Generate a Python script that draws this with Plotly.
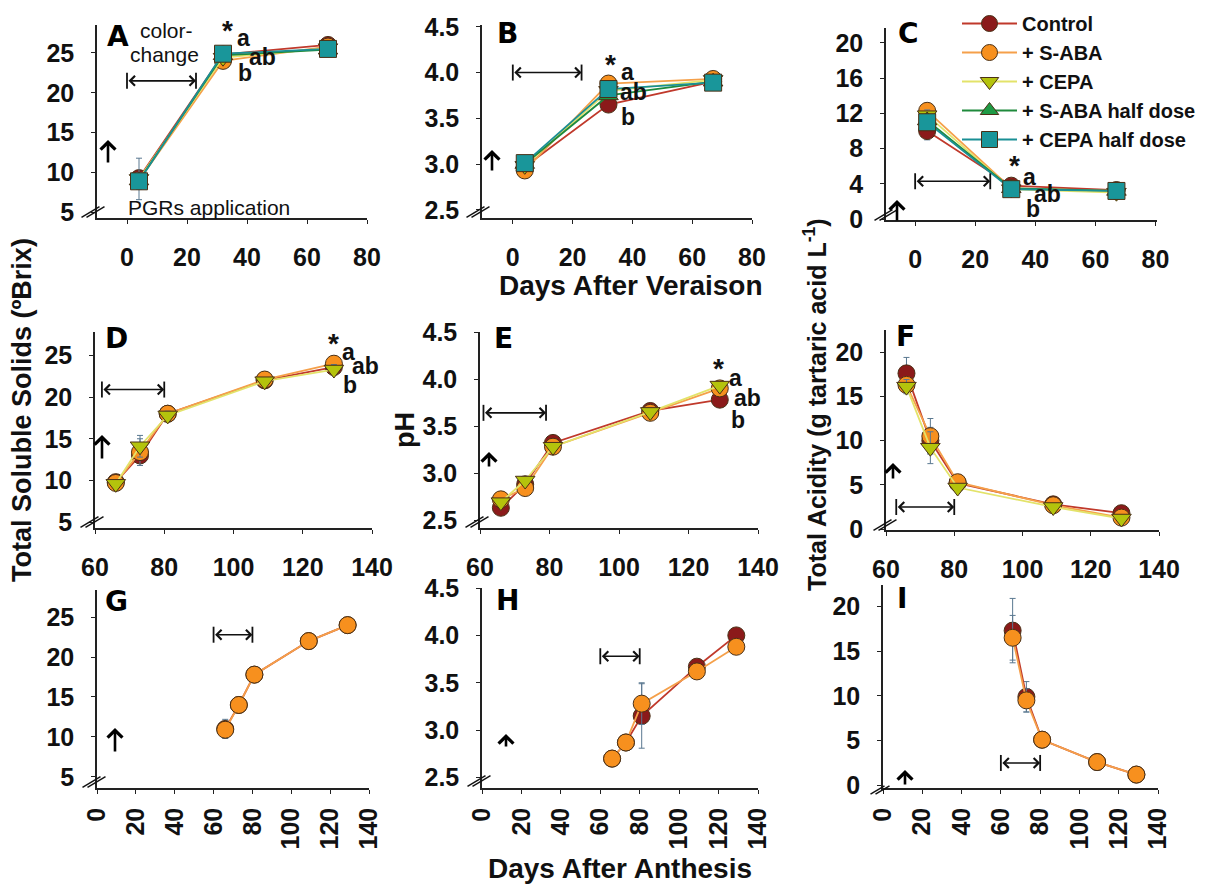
import plotly.graph_objects as go

W, H = 1226, 894
OFF = 8  # page body margin of the html page

# ---------------- data ----------------
days_veraison = [4, 32, 67]
days_anthesis = [66, 73, 81, 109, 129]

series_names = ["Control", "+ S-ABA", "+ CEPA", "+ S-ABA half dose", "+ CEPA half dose"]

# Panel A: total soluble solids (ºBrix) vs days after veraison
A_control = [9.3, 24.8, 26.0]
A_saba = [9.0, 24.0, 25.8]
A_cepa = [9.2, 24.4, 25.6]
A_saba_half = [9.0, 24.7, 25.4]
A_cepa_half = [8.9, 24.9, 25.5]
A_err = [[0.8, 0.5, 0.5], [1.0, 0.5, 0.5], [2.6, 0.5, 0.5], [1.0, 0.4, 0.4], [1.0, 0.4, 0.4]]

# Panel B: pH vs days after veraison
B_control = [2.97, 3.65, 3.90]
B_saba = [2.93, 3.88, 3.93]
B_cepa = [2.98, 3.80, 3.92]
B_saba_half = [3.00, 3.75, 3.90]
B_cepa_half = [3.01, 3.82, 3.89]
B_err = [[0.03, 0.04, 0.04]] * 5

# Panel C: total acidity vs days after veraison
C_control = [10.0, 3.8, 3.3]
C_saba = [12.3, 3.5, 3.2]
C_cepa = [11.8, 3.4, 3.0]
C_saba_half = [11.2, 3.5, 3.2]
C_cepa_half = [11.0, 3.4, 3.2]
C_err = [[1.0, 0.3, 0.4], [0.6, 0.3, 0.3], [0.6, 0.3, 0.6], [0.5, 0.3, 0.3], [0.5, 0.3, 0.3]]

# Panel D-F: days after anthesis (Control, S-ABA, CEPA)
D_control = [9.8, 13.0, 18.0, 22.0, 23.6]
D_saba = [9.7, 13.4, 18.0, 22.1, 24.0]
D_cepa = [9.6, 14.1, 17.8, 21.9, 23.3]
D_err = [[0.4, 1.2, 0.5, 0.4, 0.4], [0.4, 1.6, 0.5, 0.4, 0.4], [0.4, 1.3, 0.5, 0.4, 0.6]]

E_control = [2.63, 2.88, 3.32, 3.66, 3.78]
E_saba = [2.72, 2.84, 3.28, 3.64, 3.90]
E_cepa = [2.69, 2.92, 3.28, 3.65, 3.93]
E_err = [[0.03, 0.04, 0.04, 0.03, 0.03]] * 3

F_control = [17.6, 10.0, 5.2, 2.8, 1.8]
F_saba = [16.3, 10.5, 5.3, 2.7, 1.3]
F_cepa = [16.1, 9.2, 4.7, 2.5, 1.2]
F_err = [[1.8, 1.5, 0.4, 0.3, 0.3], [0.8, 2.0, 0.4, 0.3, 0.3], [0.8, 1.8, 0.4, 0.3, 0.3]]

# Panel G-I: days after anthesis (Control, S-ABA)
G_control = [11.0, 14.0, 17.8, 22.0, 24.0]
G_saba = [10.9, 14.0, 17.8, 22.0, 24.0]
G_err = [[1.2, 0.5, 0.4, 0.4, 0.4], [0.8, 0.5, 0.4, 0.4, 0.4]]

H_control = [2.70, 2.87, 3.15, 3.67, 4.00]
H_saba = [2.70, 2.87, 3.28, 3.62, 3.88]
H_err = [[0.03, 0.04, 0.34, 0.04, 0.04], [0.03, 0.04, 0.22, 0.04, 0.04]]

I_control = [17.3, 9.9, 5.1, 2.6, 1.2]
I_saba = [16.5, 9.5, 5.1, 2.6, 1.2]
I_err = [[3.6, 1.7, 0.4, 0.3, 0.2], [2.5, 1.3, 0.4, 0.3, 0.2]]

tick_tss = [5, 10, 15, 20, 25]
tick_ph = [2.5, 3.0, 3.5, 4.0, 4.5]
tick_ta_c = [0, 4, 8, 12, 16, 20]
tick_ta = [0, 5, 10, 15, 20]
tick_dav = [0, 20, 40, 60, 80]
tick_daa_mid = [60, 80, 100, 120, 140]
tick_daa_full = [0, 20, 40, 60, 80, 100, 120, 140]

# ---------------- styles ----------------
styles = [
    dict(line="#c0392b", fill="#8b1a1a", symbol="circle"),
    dict(line="#f5a04a", fill="#f7901e", symbol="circle"),
    dict(line="#e3e36a", fill="#b4c30c", symbol="triangle-down"),
    dict(line="#1f8a3c", fill="#1e9a45", symbol="triangle-up"),
    dict(line="#1a8f95", fill="#19969a", symbol="square"),
]
FONT = "Liberation Sans, Arial, sans-serif"
AXCOL = "#222"
TICKSIZE = 25


def X(px):
    return (px - OFF) / W


def Y(py):
    return 1 - (py - OFF) / H


panels = [
    ("A", (97, 367), (25, 218), [-10, 80], [4.3, 28.5], tick_dav, tick_tss, days_veraison,
     [A_control, A_saba, A_cepa, A_saba_half, A_cepa_half], A_err, False),
    ("B", (482, 752), (25, 218), [-10.3, 80], [2.41, 4.52], tick_dav, tick_ph, days_veraison,
     [B_control, B_saba, B_cepa, B_saba_half, B_cepa_half], B_err, False),
    ("C", (886, 1157), (28, 220), [-9.7, 80.5], [-0.1, 21.7], tick_dav, tick_ta_c, days_veraison,
     [C_control, C_saba, C_cepa, C_saba_half, C_cepa_half], C_err, False),
    ("D", (95, 372), (332, 528), [60, 140], [4.3, 27.8], tick_daa_mid, tick_tss, days_anthesis,
     [D_control, D_saba, D_cepa], D_err, False),
    ("E", (480, 758), (332, 528), [60, 140], [2.415, 4.5], tick_daa_mid, tick_ph, days_anthesis,
     [E_control, E_saba, E_cepa], E_err, False),
    ("F", (886, 1159), (330, 530), [60, 140], [-0.1, 22.5], tick_daa_mid, tick_ta, days_anthesis,
     [F_control, F_saba, F_cepa], F_err, False),
    ("G", (97, 369), (590, 788), [0, 140], [3.6, 28.4], tick_daa_full, tick_tss, days_anthesis,
     [G_control, G_saba], G_err, True),
    ("H", (482, 758), (588, 788), [0, 140], [2.39, 4.5], tick_daa_full, tick_ph, days_anthesis,
     [H_control, H_saba], H_err, True),
    ("I", (883, 1158), (585, 788), [0, 140], [-0.3, 22.4], tick_daa_full, tick_ta, days_anthesis,
     [I_control, I_saba], I_err, True),
]

fig = go.Figure()
layout = dict()
axis_ids = {}

for i, (key, xd, yd, xr, yr, xt, yt, xdata, sers, errs, rot) in enumerate(panels):
    n = i + 1
    xa = "x" if n == 1 else f"x{n}"
    ya = "y" if n == 1 else f"y{n}"
    axis_ids[key] = (xa, ya)
    xname = "xaxis" if n == 1 else f"xaxis{n}"
    yname = "yaxis" if n == 1 else f"yaxis{n}"
    yfmt = "%.1f" if key in "BEH" else "%d"
    layout[xname] = dict(
        domain=[X(xd[0]), X(xd[1])], anchor=ya, range=xr, tickvals=xt,
        ticktext=["%d" % v for v in xt], automargin=False,
        showline=True, linecolor=AXCOL, linewidth=1.5, showgrid=False, zeroline=False,
        ticks="outside", ticklen=4, tickcolor=AXCOL,
        tickangle=-90 if rot else 0,
        ticklabelstandoff=4 if rot else 12,
        tickfont=dict(family=FONT, size=TICKSIZE, color="#111", weight="bold"),
    )
    layout[yname] = dict(
        domain=[Y(yd[1]), Y(yd[0])], anchor=xa, range=yr, tickvals=yt,
        ticktext=[yfmt % v for v in yt], automargin=False,
        showline=True, linecolor=AXCOL, linewidth=1.5, showgrid=False, zeroline=False,
        ticks="outside", ticklen=4, tickcolor=AXCOL, ticklabelstandoff=12,
        tickfont=dict(family=FONT, size=TICKSIZE, color="#111", weight="bold"),
    )
    for s, (vals, err) in enumerate(zip(sers, errs)):
        st = styles[s]
        fig.add_trace(go.Scatter(
            x=xdata, y=vals, xaxis=xa, yaxis=ya,
            mode="lines+markers", name=series_names[s],
            legendgroup=series_names[s], showlegend=(key == "A"),
            line=dict(color=st["line"], width=1.8),
            marker=dict(symbol=st["symbol"], size=17, color=st["fill"],
                        line=dict(color="#4a3016", width=1)),
            error_y=dict(type="data", array=err, color="#5a7890", thickness=1, width=3),
        ))

annotations = []
shapes = []


def ptxt(px, py, t, font, angle=0):
    annotations.append(dict(x=X(px), y=Y(py), xref="paper", yref="paper", text=t, showarrow=False,
                            xanchor="center", yanchor="middle", textangle=angle, font=font))


# panel letters
letter_pos = {"A": (118, 36), "B": (507, 34), "C": (908, 34), "D": (116, 338), "E": (503, 338),
              "F": (905, 336), "G": (117, 601), "H": (507, 600), "I": (902, 598)}
for k, (px, py) in letter_pos.items():
    ptxt(px, py, k, dict(family="DejaVu Sans, sans-serif", size=28, color="#000", weight="bold"))


def txt(px, py, t, size=20, bold=True):
    ptxt(px, py, t, dict(family=FONT, size=size, color="#111", weight="bold" if bold else "normal"))


txt(166, 31, "color-", 21, False)
txt(164, 54, "change", 21, False)
txt(209, 207, "PGRs application", 21, False)

# significance letters
sig = {
    "A": [(227, 30, "*"), (243, 38, "a"), (262, 57, "ab"), (245, 73, "b")],
    "B": [(610, 64, "*"), (627, 72, "a"), (634, 92, "ab"), (628, 117, "b")],
    "C": [(1015, 165, "*"), (1029, 177, "a"), (1047, 194, "ab"), (1033, 209, "b")],
    "D": [(333, 343, "*"), (348, 352, "a"), (365, 366, "ab"), (350, 385, "b")],
    "E": [(718, 368, "*"), (735, 378, "a"), (747, 398, "ab"), (738, 420, "b")],
}
for k, lst in sig.items():
    for px, py, t in lst:
        txt(px, py, t, 28 if t == "*" else 23, True)

# interval arrows (double headed) in data coords
intervals = {"A": (0, 23, 21.5), "B": (0, 23, 4.0), "C": (0, 25, 4.3), "D": (62, 80, 20.9),
             "E": (61, 79, 3.64), "F": (63, 80, 2.5), "G": (60, 80, 22.8), "H": (60, 80, 3.78),
             "I": (60, 80, 2.5)}
for k, (x0, x1, yv) in intervals.items():
    xa, ya = axis_ids[k]
    annotations.append(dict(x=x1, y=yv, ax=x0, ay=yv, xref=xa, yref=ya, axref=xa, ayref=ya,
                            text="", showarrow=True, arrowside="end+start", arrowhead=4,
                            arrowsize=1.2, arrowwidth=1.6, arrowcolor="#111", standoff=0, startstandoff=0))
    for xv in (x0, x1):
        shapes.append(dict(type="line", xref=xa, yref=ya, x0=xv, x1=xv, ysizemode="pixel", yanchor=yv,
                           y0=-8, y1=8, line=dict(color="#111", width=1.8)))

# up arrows marking PGR application
ups = {"A": (108, 140, 164), "B": (492, 150, 172), "C": (897, 200, 222), "D": (102, 435, 460),
       "E": (489, 452, 468), "F": (893, 463, 480), "G": (115, 728, 753), "H": (506, 734, 748),
       "I": (905, 770, 786)}
for k, (px, ytop, ybot) in ups.items():
    annotations.append(dict(x=X(px), y=Y(ytop), ax=0, ay=ybot - ytop, xref="paper", yref="paper",
                            axref="pixel", ayref="pixel", text="", showarrow=True, arrowhead=4,
                            arrowsize=1.1, arrowwidth=2.6, arrowcolor="#000"))


# axis break marks
def brk(cx, cy, h=9, dx=5):
    for off in (-dx / 2, dx / 2):
        shapes.append(dict(type="line", xref="paper", yref="paper",
                           x0=X(cx + off - h), y0=Y(cy + h * 0.6), x1=X(cx + off + h), y1=Y(cy - h * 0.6),
                           line=dict(color="#111", width=1.4)))


brk(93, 212); brk(478, 212); brk(886, 215)
brk(92, 522, 9); brk(477, 522, 9); brk(885, 525, 9)
brk(94, 782); brk(479, 781); brk(880, 790, 7)

# axis titles
TITLE = dict(family=FONT, size=27, color="#111", weight="bold")
ptxt(22, 410, "Total Soluble Solids (ºBrix)", TITLE, -90)
ptxt(405, 430, "pH", TITLE, -90)
ptxt(815, 405, "Total Acidity (g tartaric acid L<sup>-1</sup>)",
     dict(family=FONT, size=25, color="#111", weight="bold"), -90)
ptxt(631, 285, "Days After Veraison", dict(family=FONT, size=28, color="#111", weight="bold"))
ptxt(620, 868, "Days After Anthesis", dict(family=FONT, size=28, color="#111", weight="bold"))

fig.update_layout(
    width=W, height=H, autosize=False,
    margin=dict(l=0, r=0, t=0, b=0, pad=0, autoexpand=False),
    paper_bgcolor="white", plot_bgcolor="white",
    showlegend=True,
    legend=dict(x=X(957), y=Y(4), xanchor="left", yanchor="top", bgcolor="rgba(0,0,0,0)",
                font=dict(family=FONT, size=20, color="#111", weight="bold"), tracegroupgap=0,
                itemwidth=55),
    annotations=annotations, shapes=shapes,
    **layout,
)

fig.write_html("out.html")
